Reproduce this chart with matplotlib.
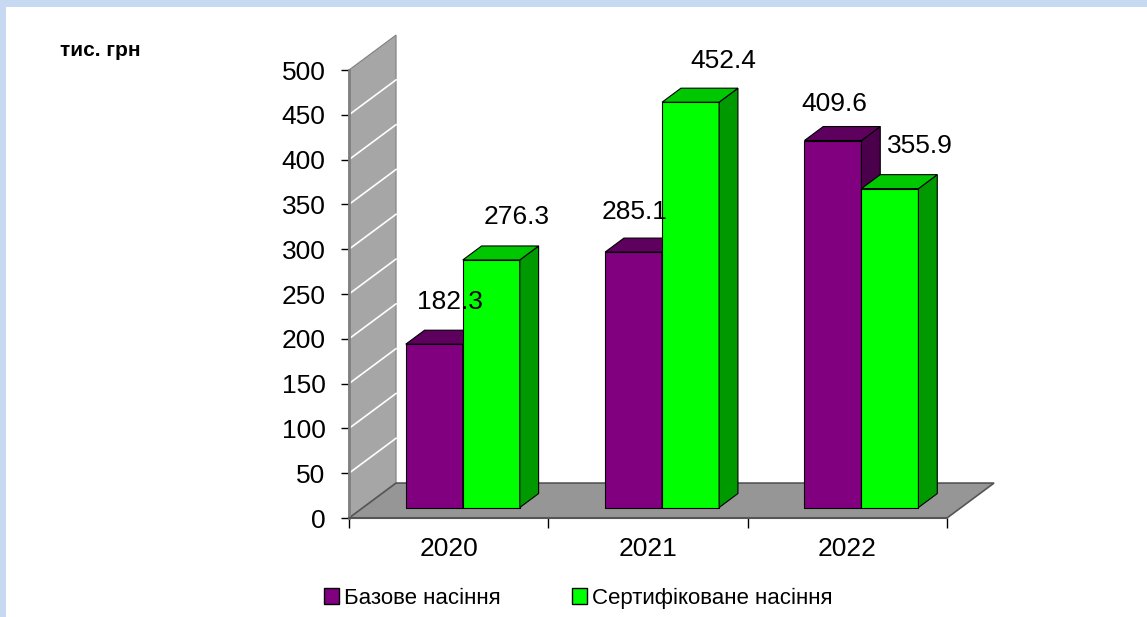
import matplotlib.pyplot as plt
import matplotlib.patches as mpatches
import numpy as np

years = ["2020", "2021", "2022"]
base_seed = [182.3, 285.1, 409.6]
cert_seed = [276.3, 452.4, 355.9]
series_names = ["Базове насіння", "Сертифіковане насіння"]
unit_label = "тис. грн"
y_ticks = [0, 50, 100, 150, 200, 250, 300, 350, 400, 450, 500]

plt.rcParams['font.family'] = ['Liberation Sans', 'DejaVu Sans']

# fake 3d: full depth of floor in data units
DEPTH_X = 0.236
DEPTH_Y = 39.0
BAR_W = 0.286
NUM_FS = 19
# label nudges in pixels (Excel places them a bit irregularly)
base_nudge = [(16, 28), (1, 26), (1, 23)]
cert_nudge = [(25, 29), (33, 27), (30, 29)]


def depth(frac):
    return frac * DEPTH_X, frac * DEPTH_Y


def draw_bar3d(ax, x_left, value, face, top, side, nudge):
    fx, fy = depth(0.3)
    bx, by = depth(0.4)
    x0 = x_left + fx
    x1 = x0 + BAR_W
    ax.bar(x0, value, width=BAR_W, bottom=fy, align='edge', color=face,
           edgecolor='black', linewidth=0.8, zorder=3)
    ytop = fy + value
    ax.add_patch(mpatches.Polygon([(x1, fy), (x1, ytop), (x1 + bx, ytop + by), (x1 + bx, fy + by)],
                                  closed=True, facecolor=side, edgecolor='black', lw=0.8, zorder=3))
    ax.add_patch(mpatches.Polygon([(x0, ytop), (x1, ytop), (x1 + bx, ytop + by), (x0 + bx, ytop + by)],
                                  closed=True, facecolor=top, edgecolor='black', lw=0.8, zorder=3))
    ax.annotate(f"{value:.1f}", xy=((x0 + x1) / 2, ytop + by), xytext=nudge,
                textcoords='offset pixels', ha='center', va='center', fontsize=NUM_FS, zorder=5)


fig = plt.figure(figsize=(11.47, 6.17), dpi=100)
fig.patch.set_facecolor('white')
# light blue frame on top / left
fig.add_artist(mpatches.Rectangle((0, 0), 6 / 1147, 1, transform=fig.transFigure,
                                  facecolor='#C6D9F1', edgecolor='none'))
fig.add_artist(mpatches.Rectangle((0, 1 - 7 / 617), 1, 7 / 617, transform=fig.transFigure,
                                  facecolor='#C6D9F1', edgecolor='none'))

ax = fig.add_axes([349 / 1147, 99 / 617, 598 / 1147, 448 / 617])
ax.set_xlim(-0.5, 2.5)
ax.set_ylim(0, 500)
ax.patch.set_alpha(0)

# side wall
ax.add_patch(mpatches.Polygon([(-0.5, 0), (-0.5, 500), (-0.5 + DEPTH_X, 500 + DEPTH_Y), (-0.5 + DEPTH_X, DEPTH_Y)],
                              closed=True, facecolor='#A6A6A6', edgecolor='#808080', lw=0.8,
                              clip_on=False, zorder=1))
for t in y_ticks[1:-1]:
    ax.plot([-0.5, -0.5 + DEPTH_X], [t, t + DEPTH_Y], color='white', lw=1.2, clip_on=False, zorder=1.5)
# floor
ax.add_patch(mpatches.Polygon([(-0.5, 0), (2.5, 0), (2.5 + DEPTH_X, DEPTH_Y), (-0.5 + DEPTH_X, DEPTH_Y)],
                              closed=True, facecolor='#969696', edgecolor='#555555', lw=1.2,
                              clip_on=False, zorder=2))

x = np.arange(len(years))
for i in range(len(years)):
    draw_bar3d(ax, x[i] - BAR_W, base_seed[i], '#800080', '#5E005E', '#4A004A', base_nudge[i])
    draw_bar3d(ax, x[i], cert_seed[i], '#00FF00', '#00C800', '#009900', cert_nudge[i])

ax.set_yticks(y_ticks)
ax.set_yticklabels([str(t) for t in y_ticks], fontsize=NUM_FS)
ax.tick_params(axis='y', length=6, width=1, pad=11, color='black')
ax.set_xticks(x)
ax.set_xticklabels(years, fontsize=NUM_FS)
ax.set_xticks([-0.5, 0.5, 1.5, 2.5], minor=True)
ax.tick_params(axis='x', which='major', length=0, pad=14)
ax.tick_params(axis='x', which='minor', length=7, width=1, color='black')
ax.spines['top'].set_visible(False)
ax.spines['right'].set_visible(False)
ax.spines['left'].set_color('#808080')
ax.spines['left'].set_linewidth(2)
ax.spines['bottom'].set_color('#555555')
ax.spines['bottom'].set_linewidth(1.5)

fig.text(60 / 1147, 1 - 50 / 617, unit_label, fontsize=15, fontweight='bold', va='center', ha='left')

handles = [mpatches.Patch(facecolor='#800080', edgecolor='black', lw=1),
           mpatches.Patch(facecolor='#00FF00', edgecolor='black', lw=1)]
fig.legend(handles, series_names, loc='center', bbox_to_anchor=(578 / 1147, 1 - 598 / 617),
           ncol=2, frameon=False, fontsize=16, handlelength=0.7, handleheight=0.7,
           handletextpad=0.2, columnspacing=3.2)

fig.savefig('out.png', dpi=100)
